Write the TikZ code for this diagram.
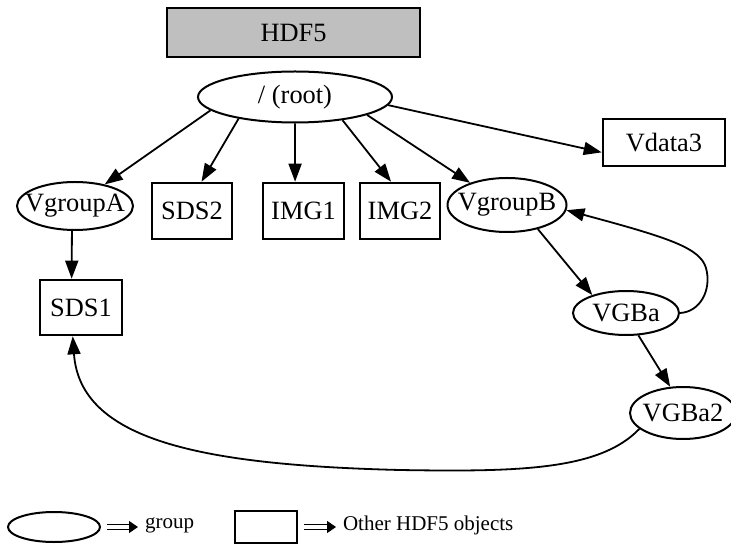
\documentclass[tikz,border=0pt]{standalone}
\usepackage{fontspec}
\setmainfont{Liberation Serif}
\usetikzlibrary{arrows.meta,shapes}
\tikzstyle{group}=[ellipse,draw,line width=1pt,inner sep=0pt,font=\fontsize{13.2}{15}\selectfont]
\tikzstyle{object}=[rectangle,draw,line width=1.3pt,inner sep=0pt,font=\fontsize{13.2}{15}\selectfont]
\tikzstyle{edge} = [draw,line width=0.9pt,-{Triangle[length=9pt,width=6.5pt]}]
\tikzstyle{legendarrow} = [draw,double,double distance=1.6pt,line width=0.6pt,-{Triangle[length=4.5pt,width=6pt]},shorten <=3pt]
\tikzstyle{legendtext} = [font=\fontsize{10.5}{12}\selectfont]

\begin{document}
\begin{tikzpicture}[x=0.5pt,y=-0.5pt]

    \useasboundingbox (0,0) rectangle (731,544);

    \node[object, fill=black!25, minimum width=126.5pt, minimum height=24.5pt] (hdf) at (293.5,32.5) {HDF5};

     \foreach \x/\y/\w/\h/\name/\txt in {295/97/97/25.5/root/{/ (root)}, 75/206/58/24/VgroupA/VgroupA, 507/205/59.5/27/VgroupB/VgroupB, 626/313/53/22/VGBa/VGBa, 683/413/53/26/VGBa2/VGBa2}
        \node[group, minimum width=\w pt, minimum height=\h pt] (\name) at (\x,\y) {\makebox[0pt]{\txt}};

     \foreach \x/\y/\w/\h/\name in {192/211/40/28/SDS2, 303.5/211/40.5/28/IMG1, 400/211/40/28/IMG2, 81/307.5/41/27.5/SDS1, 664/142.5/61/23.5/Vdata3}
        \node[object, minimum width=\w pt, minimum height=\h pt] (\name) at (\x,\y) {\name};

    % straight links
    \foreach \source/ \dest in {root.189/VgroupA.36, root.201/SDS2.72, root.270/IMG1.106, root.334/IMG2.107, root.346/VgroupB.149, root.355/Vdata3.189, VgroupA.263/SDS1.108, VgroupB.322/VGBa.152, VGBa.299/VGBa2.116}
        \path[edge] (\source) -- (\dest);

    % links drawn as curves
    \path[edge] (VGBa.east) .. controls (700,312) and (712,290) .. (706,268)
        .. controls (700,248) and (670,238) .. (VgroupB.355);
    \path[edge] (VGBa2.200) .. controls (600,470) and (520,472) .. (400,470)
        .. controls (200,465) and (80,440) .. (SDS1.254);

    % legend
    \node[group, minimum width=46pt, minimum height=15pt] (lgrp) at (54,527) {};
    \node[legendtext, anchor=west] (lgrptxt) at (138,525) {group};
    \node[object, line width=1pt, minimum width=31pt, minimum height=16pt] (lobj) at (266,527) {};
    \node[legendtext, anchor=west] (lobjtxt) at (336,525) {Other HDF5 objects};

    \path[legendarrow] (lgrp.east) -- (lgrp.east -| lgrptxt.west);
    \path[legendarrow] (lobj.east) -- (lobj.east -| lobjtxt.west);

\end{tikzpicture}
\end{document}
